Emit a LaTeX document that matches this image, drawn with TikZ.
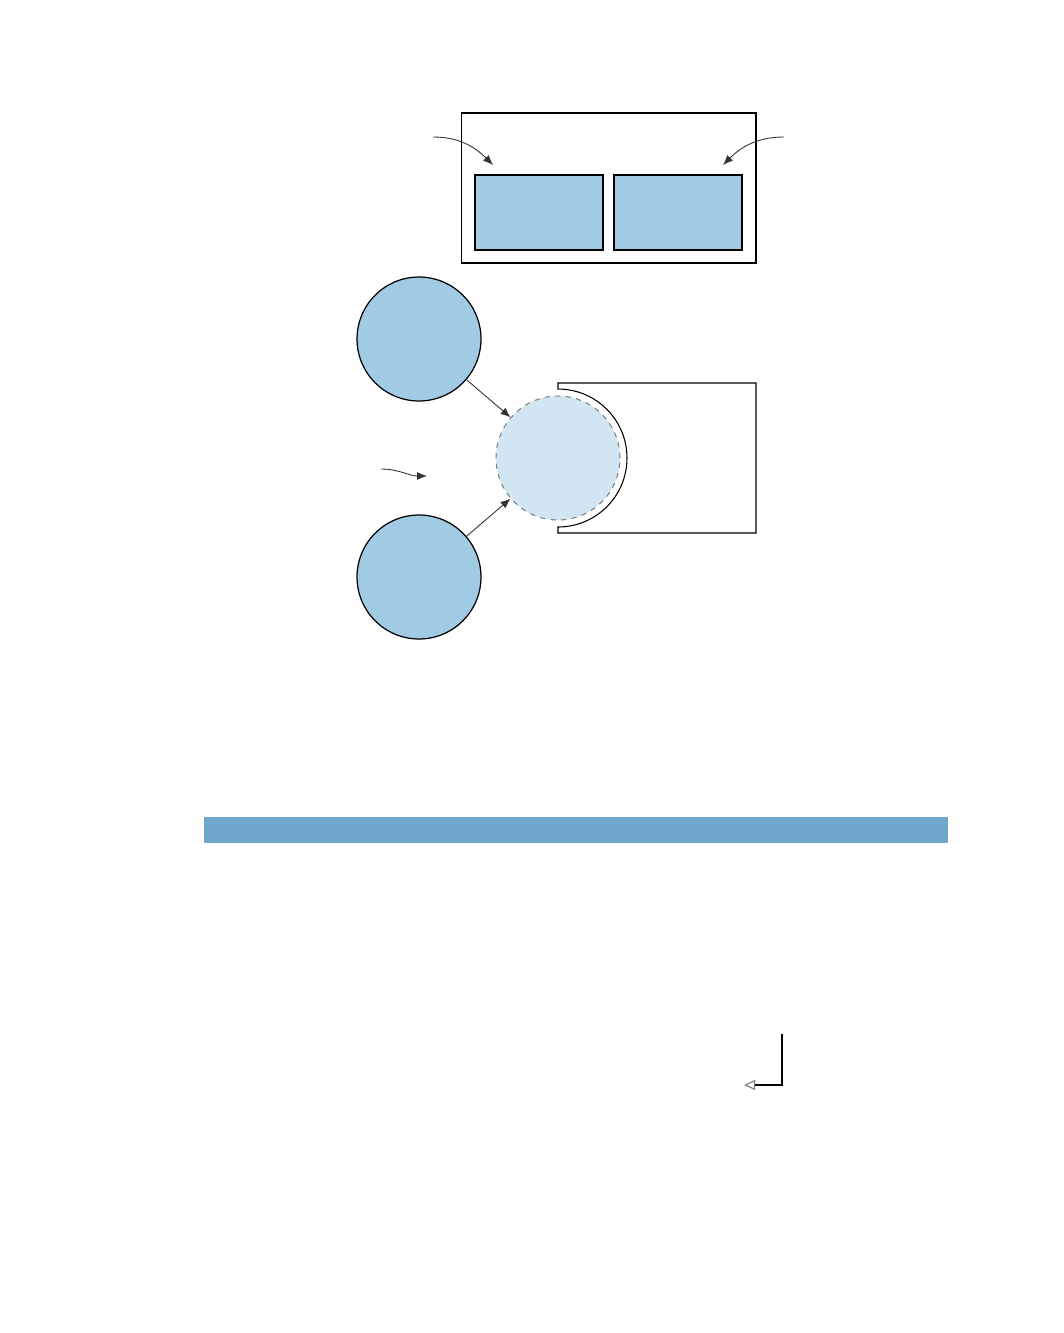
\documentclass[tikz,border=0pt]{standalone}
\usepackage{xcolor}
\usepackage{tikz}
\usetikzlibrary{positioning, arrows.meta}
\definecolor{paleblue}{HTML}{A1CBE4}
\definecolor{lightblue}{HTML}{D2E5F3}
\definecolor{barblue}{HTML}{70A7CD}
\begin{document}
\begin{tikzpicture}[x=0.02cm,y=0.02cm]
						\tikzstyle{frame}=[draw=black,line width=0.6pt,inner sep=0pt,minimum width=5.9cm,minimum height=3cm]
						\tikzstyle{panel}=[draw=black,line width=0.65pt,fill=paleblue,inner sep=0pt,minimum width=2.56cm,minimum height=1.5cm]
						\tikzstyle{disk}=[circle,draw=black,line width=0.7pt,fill=paleblue,inner sep=0pt,minimum size=2.48cm]
						\tikzstyle{ghost}=[circle,draw=gray,dashed,line width=0.6pt,fill=lightblue,inner sep=0pt,minimum size=2.48cm]
						\tikzstyle{pointer}=[-{Latex[length=2mm,width=1.6mm]},draw=black!80,line width=0.5pt]
						\useasboundingbox (0,0) rectangle (1063,-1333);
						\node[frame](f1) at (608.5,-188) {};
						\node[panel](p1) at (539,-212.5) {};
						\node[panel](p2) at (678,-212.5) {};
						\coordinate (a1) at (433,-137);
						\coordinate (b1) at (493,-165);
						\coordinate (a2) at (784,-137);
						\coordinate (b2) at (723,-165);
						\draw[pointer](a1) to[out=0,in=135] (b1);
						\draw[pointer](a2) to[out=180,in=45] (b2);
						\node[disk](c1) at (419,-339) {};
						\node[disk](c2) at (419,-577) {};
						\node[ghost](c3) at (558,-458) {};
						\draw[line width=0.6pt] (558,-383) -- (756,-383) -- (756,-533) -- (558,-533) -- (558,-527)
							arc[start angle=-90,end angle=90,radius=1.38cm] -- cycle;
						\draw[pointer](c1) -- (c3);
						\draw[pointer](c2) -- (c3);
						\coordinate (w1) at (381,-469);
						\coordinate (w2) at (427,-476);
						\draw[pointer](w1) to[out=0,in=180] (w2);
						\node[fill=barblue,inner sep=0pt,minimum width=14.88cm,minimum height=0.52cm](bar) at (576,-830) {};
						\coordinate (e1) at (782,-1034);
						\coordinate (e2) at (744,-1085);
						\draw[-{Triangle[open,length=2.2mm,width=2mm,color=gray]},line width=0.7pt](e1) |- (e2);
					\end{tikzpicture}
\end{document}
